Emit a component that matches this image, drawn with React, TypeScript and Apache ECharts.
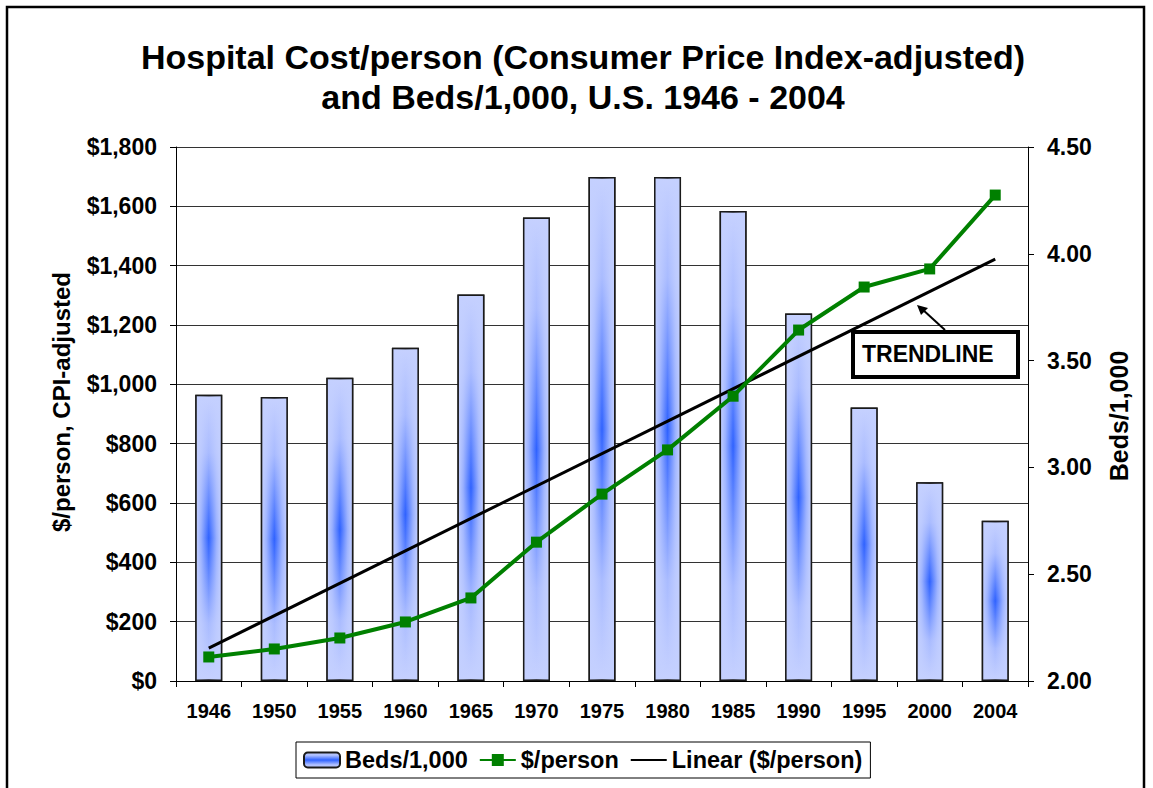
import React, { useEffect, useRef } from "react";
import * as echarts from "echarts";

const years = ["1946", "1950", "1955", "1960", "1965", "1970", "1975", "1980", "1985", "1990", "1995", "2000", "2004"];
const bedsPer1000 = [3.34, 3.33, 3.42, 3.56, 3.81, 4.17, 4.36, 4.36, 4.2, 3.72, 3.28, 2.93, 2.75];
const costPerPerson = [81, 108, 145, 199, 280, 468, 630, 779, 960, 1183, 1328, 1389, 1638];
const trendYears = ["1946", "2004"];
const trendValues = [111, 1422];
const titleLines = ["Hospital Cost/person (Consumer Price Index-adjusted)", "and Beds/1,000, U.S. 1946 - 2004"];

const FONT = "'Liberation Sans', Arial, Helvetica, sans-serif";

export default function App() {
  const ref = useRef<HTMLDivElement>(null);
  useEffect(() => {
    if (!ref.current) return;
    const chart = echarts.init(ref.current, null, { renderer: "svg" });
    const vertGrad = new echarts.graphic.LinearGradient(0, 0, 0, 1, [
      { offset: 0, color: "#c6d1ff" },
      { offset: 0.2, color: "#a9bbff" },
      { offset: 0.5, color: "#2f62ff" },
      { offset: 0.8, color: "#a9bbff" },
      { offset: 1, color: "#c6d1ff" },
    ]);
    const horizGrad = new echarts.graphic.LinearGradient(0, 0, 1, 0, [
      { offset: 0, color: "rgba(196,208,255,1)" },
      { offset: 0.2, color: "rgba(196,208,255,0.7)" },
      { offset: 0.5, color: "rgba(196,208,255,0)" },
      { offset: 0.8, color: "rgba(196,208,255,0.7)" },
      { offset: 1, color: "rgba(196,208,255,1)" },
    ]);
    const trendData = trendYears.map((y, i) => [y, trendValues[i]]);
    chart.setOption({
      animation: false,
      backgroundColor: "#ffffff",
      title: {
        text: titleLines.join("\n"),
        left: 583,
        top: 37,
        textAlign: "center",
        padding: 0,
        textStyle: { fontFamily: FONT, fontWeight: "bold", fontSize: 34, lineHeight: 40, color: "#000" },
      },
      legend: {
        data: [
          "Beds/1,000",
          "$/person",
          { name: "Linear ($/person)", itemStyle: { opacity: 0 } },
        ],
        left: 296,
        top: 742,
        borderColor: "#000",
        borderWidth: 1,
        padding: [6, 8, 6, 7],
        itemGap: 11,
        itemWidth: 36,
        itemHeight: 15,
        textStyle: { fontFamily: FONT, fontWeight: "bold", fontSize: 23.5, color: "#000" },
      },
      grid: { left: 176, right: 125, top: 147, bottom: 107, containLabel: false },
      xAxis: {
        type: "category",
        data: years,
        boundaryGap: true,
        axisLine: { lineStyle: { color: "#000", width: 1 } },
        axisTick: { show: true, inside: false, length: 6, lineStyle: { color: "#000" } },
        axisLabel: { fontFamily: FONT, fontWeight: "bold", fontSize: 20, color: "#000", margin: 20 },
      },
      yAxis: [
        {
          type: "value",
          min: 0,
          max: 1800,
          interval: 200,
          position: "left",
          axisLine: { show: true, lineStyle: { color: "#000" } },
          axisTick: { show: true, inside: false, length: 6, lineStyle: { color: "#000" } },
          axisLabel: {
            fontFamily: FONT,
            fontWeight: "bold",
            fontSize: 23,
            color: "#000",
            margin: 19,
            formatter: (v: number) => "$" + v.toLocaleString("en-US"),
          },
          splitLine: { show: true, lineStyle: { color: "#333", width: 1 } },
        },
        {
          type: "value",
          min: 2,
          max: 4.5,
          interval: 0.5,
          startValue: 2,
          position: "right",
          axisLine: { show: true, lineStyle: { color: "#000" } },
          axisTick: { show: true, inside: false, length: 6, lineStyle: { color: "#000" } },
          axisLabel: {
            fontFamily: FONT,
            fontWeight: "bold",
            fontSize: 23,
            color: "#000",
            margin: 19,
            formatter: (v: number) => v.toFixed(2),
          },
          splitLine: { show: false },
        },
      ],
      series: [
        {
          name: "Beds/1,000",
          type: "bar",
          yAxisIndex: 1,
          data: bedsPer1000,
          barWidth: 27,
          itemStyle: { color: vertGrad, borderColor: "#1a1a1a", borderWidth: 1.5 },
          z: 2,
        },
        {
          name: "bedsShade",
          type: "bar",
          yAxisIndex: 1,
          data: bedsPer1000,
          barWidth: 27,
          barGap: "-100%",
          itemStyle: { color: horizGrad, borderColor: "#1a1a1a", borderWidth: 1.5 },
          z: 3,
          silent: true,
        },
        {
          name: "$/person",
          type: "line",
          yAxisIndex: 0,
          data: costPerPerson,
          symbol: "rect",
          symbolSize: 11,
          lineStyle: { color: "#008000", width: 4 },
          itemStyle: { color: "#008000" },
          z: 5,
        },
        {
          name: "Linear ($/person)",
          type: "line",
          yAxisIndex: 0,
          data: trendData,
          symbol: "none",
          lineStyle: { color: "#000", width: 3 },
          itemStyle: { color: "#000" },
          z: 4,
        },
      ],
      graphic: [
        {
          type: "rect",
          shape: { x: 7, y: 7, width: 1137, height: 800 },
          style: { fill: "none", stroke: "#000", lineWidth: 2.5 },
          silent: true,
        },
        {
          type: "text",
          x: 61,
          y: 402,
          rotation: Math.PI / 2,
          style: {
            text: "$/person, CPI-adjusted",
            font: `bold 24px ${FONT}`,
            fill: "#000",
            align: "center",
            verticalAlign: "middle",
          },
        },
        {
          type: "text",
          x: 1119,
          y: 416,
          rotation: Math.PI / 2,
          style: {
            text: "Beds/1,000",
            font: `bold 25px ${FONT}`,
            fill: "#000",
            align: "center",
            verticalAlign: "middle",
          },
        },
        {
          type: "rect",
          z: 10,
          shape: { x: 853, y: 332, width: 165, height: 45 },
          style: { fill: "#fff", stroke: "#000", lineWidth: 4 },
        },
        {
          type: "text",
          z: 11,
          x: 862,
          y: 354,
          style: {
            text: "TRENDLINE",
            font: `bold 23px ${FONT}`,
            fill: "#000",
            align: "left",
            verticalAlign: "middle",
          },
        },
        {
          type: "line",
          z: 10,
          shape: { x1: 945, y1: 330, x2: 922, y2: 309 },
          style: { stroke: "#000", lineWidth: 2 },
        },
        {
          type: "polygon",
          z: 10,
          shape: { points: [[917, 305], [928, 308], [921, 315]] },
          style: { fill: "#000" },
        },
      ],
    });
    return () => chart.dispose();
  }, []);
  return <div ref={ref} style={{ position: "fixed", left: 0, top: 0, width: 1153, height: 788 }} />;
}
